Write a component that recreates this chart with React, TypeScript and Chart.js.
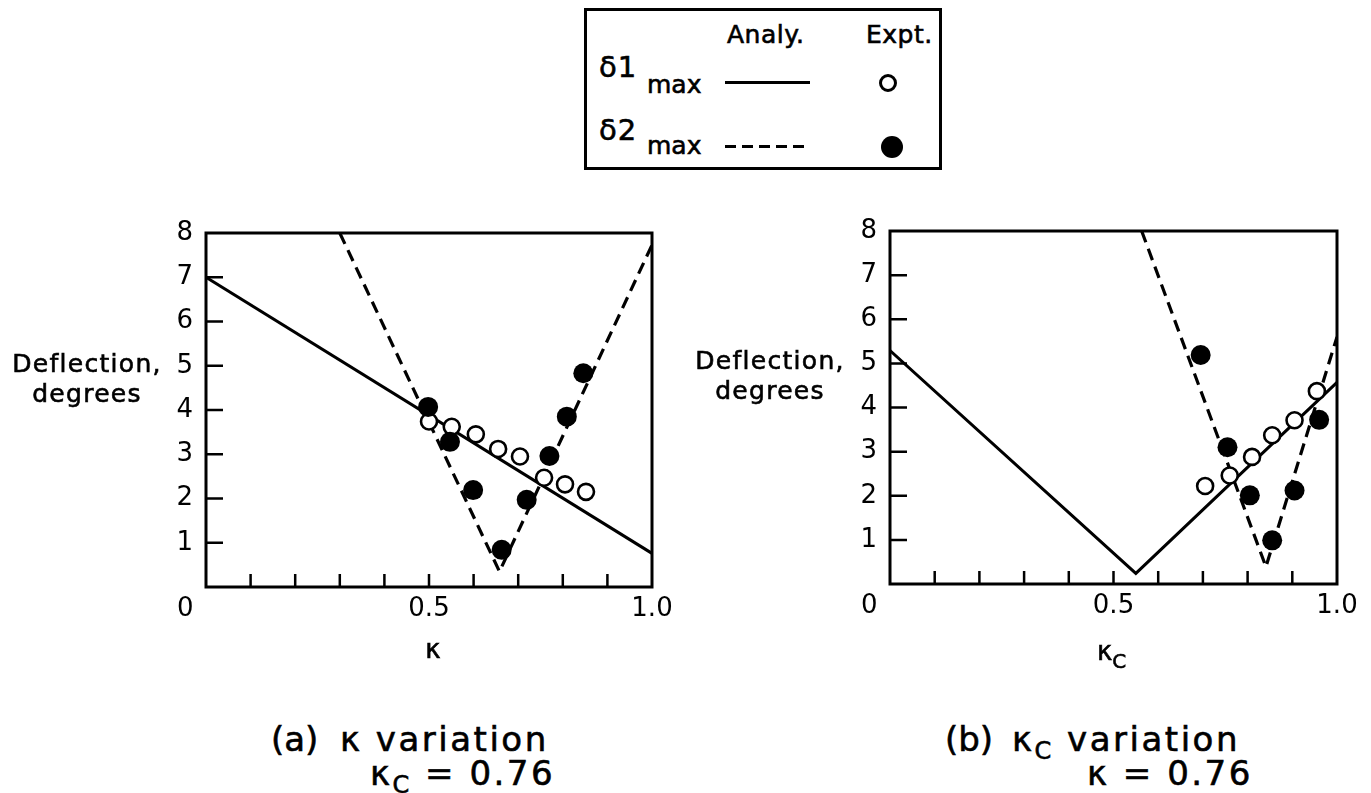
import React, { useEffect, useRef } from "react";
import { Chart, registerables } from "chart.js";

Chart.register(...registerables);

// ---- (a) κ variation, κc = 0.76 ----
const analyD1XA = [0, 1.0];
const analyD1YA = [7.0, 0.76];
const analyD2XA = [0.3, 0.658, 1.0];
const analyD2YA = [8.0, 0.35, 7.73];
const exptD1XA = [0.5, 0.551, 0.605, 0.655, 0.704, 0.758, 0.805, 0.852];
const exptD1YA = [3.74, 3.62, 3.45, 3.12, 2.95, 2.47, 2.32, 2.15];
const exptD2XA = [0.498, 0.547, 0.599, 0.663, 0.719, 0.77, 0.809, 0.846];
const exptD2YA = [4.07, 3.28, 2.19, 0.84, 1.97, 2.96, 3.85, 4.83];

// ---- (b) κc variation, κ = 0.76 ----
const analyD1XB = [0, 0.55, 1.0];
const analyD1YB = [5.29, 0.24, 4.57];
const analyD2XB = [0.563, 0.841, 1.0];
const analyD2YB = [8.0, 0.39, 5.6];
const exptD1XB = [0.705, 0.76, 0.81, 0.855, 0.905, 0.955];
const exptD1YB = [2.22, 2.46, 2.88, 3.37, 3.71, 4.37];
const exptD2XB = [0.695, 0.755, 0.805, 0.855, 0.905, 0.96];
const exptD2YB = [5.19, 3.1, 2.01, 0.99, 2.12, 3.72];

// axis ticks
const xLabelValues = [0, 0.5, 1.0];
const xMinorTicks = [0.1, 0.2, 0.3, 0.4, 0.5, 0.6, 0.7, 0.8, 0.9];
const yTickValues = [1, 2, 3, 4, 5, 6, 7];
const yMin = 0;
const yMax = 8;

const FONT = "'DejaVu Sans', 'Liberation Sans', Arial, sans-serif";

const pts = (xs: number[], ys: number[]) => xs.map((x, i) => ({ x, y: ys[i] }));

// box frame + inward tick marks
const framePlugin = {
  id: "frameTicks",
  afterDatasetsDraw(chart: any) {
    const { ctx, chartArea: a, scales } = chart;
    const xs = scales.x;
    const ys = scales.y;
    ctx.save();
    ctx.strokeStyle = "#000";
    ctx.lineWidth = 3;
    ctx.strokeRect(a.left, a.top, a.right - a.left, a.bottom - a.top);
    ctx.lineWidth = 2.5;
    ctx.beginPath();
    xMinorTicks.forEach((v) => {
      const px = xs.getPixelForValue(v);
      ctx.moveTo(px, a.bottom);
      ctx.lineTo(px, a.bottom - 13);
    });
    yTickValues.forEach((v) => {
      const py = ys.getPixelForValue(v);
      ctx.moveTo(a.left, py);
      ctx.lineTo(a.left + 17, py);
    });
    ctx.stroke();
    ctx.restore();
  },
};

type PanelData = {
  d1x: number[]; d1y: number[];
  d2x: number[]; d2y: number[];
  e1x: number[]; e1y: number[];
  e2x: number[]; e2y: number[];
};

function makeConfig(p: PanelData, yAxisWidth: number, xAxisHeight: number, padTop: number, padRight: number): any {
  const tickFont = { family: FONT, size: 26 };
  return {
    type: "scatter",
    data: {
      datasets: [
        {
          label: "δ2 max Expt.",
          data: pts(p.e2x, p.e2y),
          showLine: false,
          pointRadius: 10,
          pointBackgroundColor: "#000",
          pointBorderColor: "#000",
          pointBorderWidth: 0,
        },
        {
          label: "δ1 max Expt.",
          data: pts(p.e1x, p.e1y),
          showLine: false,
          pointRadius: 8,
          pointBackgroundColor: "#fff",
          pointBorderColor: "#000",
          pointBorderWidth: 2.6,
        },
        {
          label: "δ1 max Analy.",
          data: pts(p.d1x, p.d1y),
          showLine: true,
          borderColor: "#000",
          borderWidth: 3,
          pointRadius: 0,
          tension: 0,
        },
        {
          label: "δ2 max Analy.",
          data: pts(p.d2x, p.d2y),
          showLine: true,
          borderColor: "#000",
          borderWidth: 3.2,
          borderDash: [12, 7],
          pointRadius: 0,
          tension: 0,
        },
      ],
    },
    options: {
      animation: false,
      responsive: false,
      maintainAspectRatio: false,
      events: [],
      layout: { padding: { top: padTop, right: padRight, left: 0, bottom: 0 } },
      plugins: { legend: { display: false }, tooltip: { enabled: false } },
      scales: {
        x: {
          type: "linear",
          min: 0,
          max: 1,
          afterBuildTicks: (s: any) => {
            s.ticks = xLabelValues.map((v) => ({ value: v }));
          },
          afterFit: (s: any) => {
            s.height = xAxisHeight;
          },
          ticks: {
            autoSkip: false,
            maxRotation: 0,
            padding: 7,
            color: "#000",
            font: tickFont,
            callback: (v: number) => (v === 0 ? "0     " : v === 1 ? "1.0" : String(v)),
          },
          grid: { display: false, drawTicks: false },
          border: { display: false },
        },
        y: {
          min: yMin,
          max: yMax,
          afterFit: (s: any) => {
            s.width = yAxisWidth;
          },
          ticks: {
            stepSize: 1,
            padding: 13,
            color: "#000",
            font: tickFont,
            callback: (v: number) => (v === 0 ? "" : String(v)),
          },
          grid: { display: false, drawTicks: false },
          border: { display: false },
        },
      },
    },
    plugins: [framePlugin],
  };
}

function Panel(props: { left: number; top: number; width: number; height: number; data: PanelData; yAxisWidth: number; xAxisHeight: number; padTop: number; padRight: number }) {
  const ref = useRef<HTMLCanvasElement | null>(null);
  useEffect(() => {
    if (!ref.current) return;
    const chart = new Chart(ref.current, makeConfig(props.data, props.yAxisWidth, props.xAxisHeight, props.padTop, props.padRight));
    return () => chart.destroy();
  }, []);
  return (
    <div style={{ position: "absolute", left: props.left, top: props.top, width: props.width, height: props.height }}>
      <canvas ref={ref} width={props.width} height={props.height} style={{ width: props.width, height: props.height, display: "block" }} />
    </div>
  );
}

// text placed by its baseline
function Txt(props: { x: number; base: number; size: number; ls?: number; center?: boolean; children: React.ReactNode }) {
  const top = props.base - 0.846 * props.size;
  const style: React.CSSProperties = {
    position: "absolute",
    top,
    fontFamily: FONT,
    fontSize: props.size,
    lineHeight: `${props.size}px`,
    letterSpacing: props.ls ?? 0,
    whiteSpace: "pre",
    color: "#000",
    WebkitTextStroke: "0.6px #000",
  };
  if (props.center) {
    style.left = props.x - 200;
    style.width = 400;
    style.textAlign = "center";
  } else {
    style.left = props.x;
  }
  return <div style={style}>{props.children}</div>;
}

const Sub = (props: { size: number; drop: number; children: React.ReactNode }) => (
  <span style={{ fontSize: props.size, position: "relative", top: props.drop }}>{props.children}</span>
);

const panelA: PanelData = {
  d1x: analyD1XA, d1y: analyD1YA, d2x: analyD2XA, d2y: analyD2YA,
  e1x: exptD1XA, e1y: exptD1YA, e2x: exptD2XA, e2y: exptD2YA,
};
const panelB: PanelData = {
  d1x: analyD1XB, d1y: analyD1YB, d2x: analyD2XB, d2y: analyD2YB,
  e1x: exptD1XB, e1y: exptD1YB, e2x: exptD2XB, e2y: exptD2YB,
};

export default function App() {
  return (
    <div style={{ position: "absolute", left: 0, top: 0, width: 1371, height: 793, background: "#fff", overflow: "hidden" }}>
      {/* legend */}
      <div style={{ position: "absolute", left: 584, top: 8, width: 358, height: 162, border: "3px solid #000", boxSizing: "border-box" }} />
      <Txt x={727} base={43} size={25} ls={0.5}>Analy.</Txt>
      <Txt x={866} base={43} size={25} ls={0.5}>Expt.</Txt>
      <Txt x={599} base={78} size={29} ls={1}>δ1</Txt>
      <Txt x={647} base={93} size={25}>max</Txt>
      <Txt x={599} base={141} size={29} ls={1}>δ2</Txt>
      <Txt x={647} base={154} size={25}>max</Txt>
      <div style={{ position: "absolute", left: 725, top: 81, width: 85, height: 3, background: "#000" }} />
      <div
        style={{
          position: "absolute", left: 725, top: 145, width: 80, height: 3,
          background: "repeating-linear-gradient(to right, #000 0 11px, transparent 11px 17px)",
        }}
      />
      <div style={{ position: "absolute", left: 879, top: 74, width: 18, height: 18, borderRadius: "50%", border: "3px solid #000", boxSizing: "border-box", background: "#fff" }} />
      <div style={{ position: "absolute", left: 881, top: 136, width: 22, height: 22, borderRadius: "50%", background: "#000" }} />

      {/* charts */}
      <Panel left={0} top={200} width={700} height={460} data={panelA} yAxisWidth={206} xAxisHeight={73} padTop={33} padRight={48} />
      <Panel left={700} top={200} width={671} height={460} data={panelB} yAxisWidth={190} xAxisHeight={76} padTop={31} padRight={34} />

      {/* y-axis titles */}
      <Txt x={87} base={372} size={25} ls={1.3} center>Deflection,</Txt>
      <Txt x={87} base={402} size={25} ls={1.3} center>degrees</Txt>
      <Txt x={770} base={369} size={25} ls={1.3} center>Deflection,</Txt>
      <Txt x={770} base={399} size={25} ls={1.3} center>degrees</Txt>

      {/* x-axis titles */}
      <Txt x={433} base={658} size={26} center>κ</Txt>
      <Txt x={1097} base={660} size={26}>
        κ<Sub size={20} drop={8}>C</Sub>
      </Txt>

      {/* captions */}
      <Txt x={271} base={751} size={34}>(a)</Txt>
      <Txt x={340} base={751} size={34} ls={2.5}>κ variation</Txt>
      <Txt x={370} base={785} size={34} ls={2.5}>
        κ<Sub size={24} drop={8}>C</Sub> = 0.76
      </Txt>
      <Txt x={945} base={751} size={34}>(b)</Txt>
      <Txt x={1012} base={751} size={34} ls={2.5}>
        κ<Sub size={24} drop={8}>C</Sub> variation
      </Txt>
      <Txt x={1087} base={785} size={34} ls={2.5}>κ = 0.76</Txt>
    </div>
  );
}
